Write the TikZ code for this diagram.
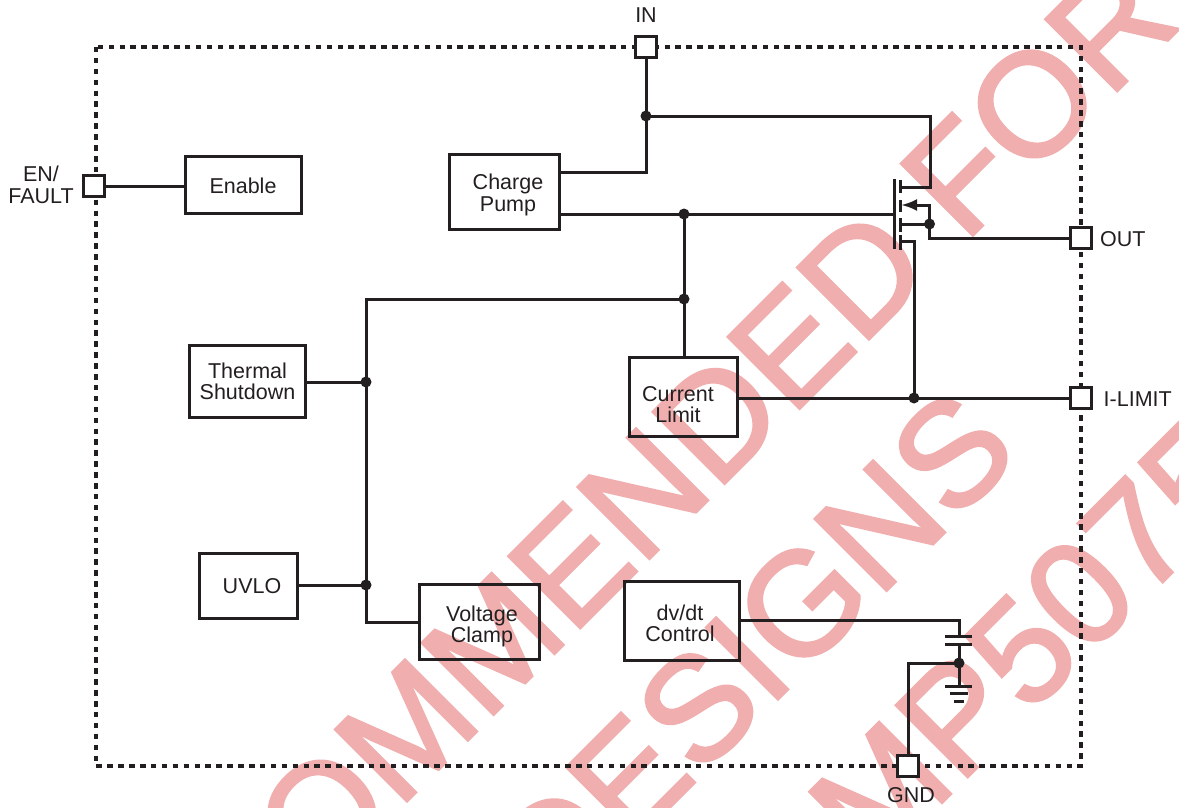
\documentclass[tikz,border=0pt]{standalone}
\usepackage{fontspec}
\setmainfont{Liberation Sans}
\newfontfamily\stampfont[FakeBold=2]{Liberation Sans}
\usetikzlibrary{arrows.meta, positioning, calc}
\definecolor{inkblack}{HTML}{231F20}
\definecolor{stamppink}{HTML}{F0AEAE}
\tikzset{
  align=center,
  wire/.style={draw=inkblack,line width=3pt,line join=miter},
  frameline/.style={draw=inkblack,line width=4.6pt,dash pattern=on 5.5pt off 5.4pt},
  blockbox/.style={draw=inkblack,line width=3pt,inner sep=0pt,outer sep=0pt,text=inkblack},
  blocktext/.style={inner sep=0pt,text=inkblack,font=\fontsize{21.5}{21.5}\selectfont},
  pad/.style={draw=inkblack,fill=white,line width=3pt,minimum size=21pt,inner sep=0pt,outer sep=0pt},
  dot/.style={shape=circle,fill=inkblack,minimum size=11pt,inner sep=0pt,outer sep=0pt},
  pinlabel/.style={inner sep=0pt,text=inkblack,font=\fontsize{21.5}{21.5}\selectfont},
  stamp/.style={rotate=45,anchor=base west,inner sep=0pt,text=stamppink,font=\stampfont\fontsize{147}{147}\selectfont}
}
\begin{document}
\begin{tikzpicture}[x=1pt,y=-1pt]
  \useasboundingbox (0,0) rectangle (1179,808);

  \begin{scope}
    \clip (0,0) rectangle (1179,808);
    \node[stamp] (stampone) at (317.5,890.5) {OMMENDED FOR};
    \node[stamp] (stamptwo) at (554.5,922.5) {DESIGNS};
    \node[stamp] (stampthree) at (872.5,872) {MP5075};
  \end{scope}

  \draw[frameline] (96,47) rectangle (1081,766);

  \node[blockbox, minimum width=116pt, minimum height=57pt, label={[blocktext,xshift=-0.5pt,yshift=-1pt]center:Enable}] (enable) at (243.5,185) {};
  \node[blockbox, minimum width=110pt, minimum height=75pt, label={[blocktext,xshift=3.5pt,yshift=-3pt]center:Charge\\Pump}] (pump) at (504.5,192) {};
  \node[blockbox, minimum width=116pt, minimum height=72pt, label={[blocktext]center:Thermal\\Shutdown}] (thermal) at (247.5,381.5) {};
  \node[blockbox, minimum width=98pt, minimum height=65pt, label={[blocktext,xshift=3.5pt]center:UVLO}] (uvlo) at (248.5,586) {};
  \node[blockbox, minimum width=120pt, minimum height=75pt, label={[blocktext,xshift=2.5pt,yshift=-4.5pt]center:Voltage\\Clamp}] (clamp) at (479.5,622) {};
  \node[blockbox, minimum width=115pt, minimum height=79pt, label={[blocktext,xshift=-2pt,yshift=-2.5pt]center:dv/dt\\Control}] (dvdt) at (682,621) {};
  \node[blockbox, minimum width=108pt, minimum height=79pt, label={[blocktext,xshift=-5.5pt,yshift=-7.5pt]center:Current\\Limit}] (limit) at (683.5,397) {};

  \node[dot] (jin) at (646,116) {};
  \node[dot] (jgate) at (684,214) {};
  \node[dot] (jlimit) at (684,299) {};
  \node[dot] (jthermal) at (366,382) {};
  \node[dot] (juvlo) at (366,585) {};
  \node[dot] (jbody) at (929.5,224) {};
  \node[dot] (jsource) at (914,398) {};
  \node[dot] (jgnd) at (959,663) {};

  \node[pad] (in) at (646,47) {};
  \node[pad] (enpin) at (94,186) {};
  \node[pad] (out) at (1081,238) {};
  \node[pad] (ilimit) at (1081,398) {};
  \node[pad] (gnd) at (908,766) {};

  \coordinate (pumptop) at (560,172);
  \coordinate (pumplow) at (560,214);
  \coordinate (gatein) at (894,214);
  \coordinate (drain) at (900,187);
  \coordinate (bodyin) at (900,224);
  \coordinate (arrowtip) at (901,205);
  \coordinate (sourcepin) at (900,241);
  \coordinate (capupper) at (959,636.5);
  \coordinate (caplower) at (959,644);
  \coordinate (groundtop) at (959,686);

  \draw[wire] (in) -- (jin.center) -- (646,172) -- (pumptop);
  \draw[wire] (jin.center) -- (930,116) -- (930,187) -- (drain);
  \draw[wire] (pumplow) -- (gatein);
  \draw[wire] (jgate.center) -- (limit.north -| jlimit);
  \draw[wire] (jlimit.center) -- (366,299) -- (366,622) -- (clamp.west |- 0,622);
  \draw[wire] (thermal.east |- jthermal) -- (jthermal.center);
  \draw[wire] (uvlo.east |- juvlo) -- (juvlo.center);
  \draw[wire] (bodyin) -- (jbody.center);
  \draw[wire,-{Latex[length=16pt,width=12pt]}] (jbody.center) -- (929.5,205) -- (arrowtip);
  \draw[wire] (jbody.center) -- (929.5,238) -- (out);
  \draw[wire] (sourcepin) -- (914,241) -- (jsource.center);
  \draw[wire] (limit.east |- jsource) -- (ilimit);
  \draw[wire] (enable.west |- enpin) -- (enpin);
  \draw[wire] (dvdt.east |- 0,620) -- (959,620) -- (capupper);
  \draw[wire] (caplower) -- (groundtop);
  \draw[wire] (jgnd.center) -- (908,663) -- (gnd);

  \draw[wire] (945,636.5) -- (972,636.5) (945,644) -- (972,644);
  \draw[wire] (945,686) -- (972,686) (949.5,693.5) -- (968,693.5) (954,701.5) -- (963.5,701.5);

  \draw[wire] (894,179) -- (894,249);
  \foreach \ya/\yb in {180/193, 200/212, 218/232, 235/250}
    \draw[wire] (900,\ya) -- (900,\yb);

  \node[pinlabel] (inlabel) at (646,15) {IN};
  \node[pinlabel] (enlabel) at (41,185) {EN/\\FAULT};
  \node[pinlabel, right=8.5pt of out, yshift=-1pt] (outlabel) {OUT};
  \node[pinlabel, right=12pt of ilimit, yshift=-1pt] (ilimitlabel) {I-LIMIT};
  \node[pinlabel] (gndlabel) at (911,795) {GND};
\end{tikzpicture}
\end{document}
